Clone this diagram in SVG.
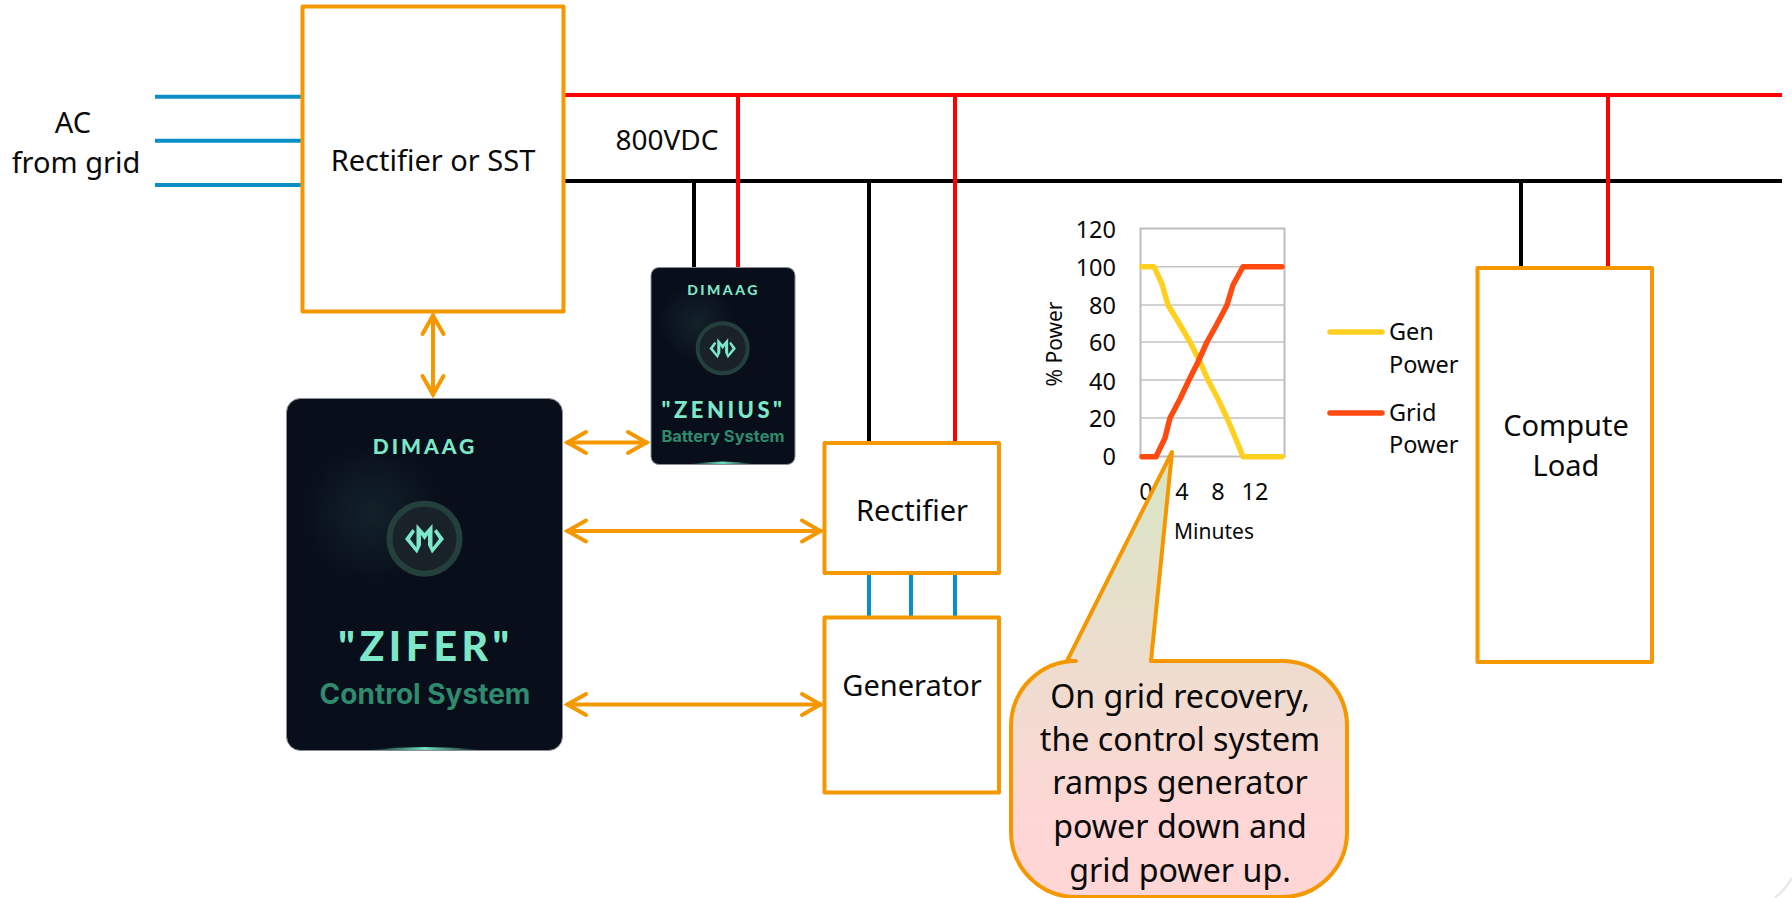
<svg xmlns="http://www.w3.org/2000/svg" width="1792" height="898" viewBox="0 0 1792 898">
<style>
.box{fill:#fff;stroke:#f59800;stroke-width:4;stroke-linejoin:round}
.w{stroke-width:4;fill:none}
.red{stroke:#ff0000}.blk{stroke:#000}.blu{stroke:#0a8fc6}
.arr{stroke:#f59800;stroke-width:4;fill:none;marker-start:url(#h);marker-end:url(#h)}
text{font-family:"Noto Sans","Open Sans",sans-serif;fill:#0a0a0a;text-anchor:middle}
.t{font-size:29px}
.c{font-size:23.500px}
.c2{font-size:21px}
.s{text-anchor:start}
.e{text-anchor:end}
.co{font-size:32.200px}
.dim{font-family:Lato,sans-serif;font-weight:900;fill:#7de8c8}
.sub{font-family:Inter,sans-serif;font-weight:700;fill:#2f8a6e}
.grid{stroke:#c4c4c4;stroke-width:1.6}
</style>
<defs>
<marker id="h" viewBox="-24 -14 28 28" refX="0" refY="0" markerWidth="28" markerHeight="28" markerUnits="userSpaceOnUse" orient="auto-start-reverse"><path d="M-20-10.500-1.500 0-20 10.500" fill="none" stroke="#f59800" stroke-width="4" stroke-linecap="round"/></marker>
<linearGradient id="cg" gradientUnits="userSpaceOnUse" x1="0" y1="450" x2="0" y2="830"><stop offset="0" stop-color="#d6e6c4"/><stop offset="1" stop-color="#ffd6d6"/></linearGradient>
<radialGradient id="glow"><stop offset="0" stop-color="#7de8c8" stop-opacity=".09"/><stop offset="1" stop-color="#7de8c8" stop-opacity="0"/></radialGradient>
<linearGradient id="base"><stop offset="0" stop-color="#6fe0bd" stop-opacity="0"/><stop offset=".5" stop-color="#6fe0bd"/><stop offset="1" stop-color="#6fe0bd" stop-opacity="0"/></linearGradient>
<path id="m" d="M-19.500 0-12-10-9.500-7.500-14.500 0-8 8.500-8-15 0-6 8-15 8 8.500 14.500 0 9.500-7.500 12-10 19.500 0 7.500 14.500 3.500 6 3.500-4 0 1-3.500-4-3.500 6-7.500 14.500Z"/>
</defs>
<g id="connectors">
<path class="w blu" d="M155 96.700H302M155 140.700H302M155 185H302"/>
<path class="w blk" d="M563 181H1782M694 181V268M869 181V443M1521 181V268"/>
<path class="w red" d="M563 95H1782M738 95V268M955 95V443M1608 95V268"/>
<path class="w blu" d="M869 573V617M911 573V617M955 573V617"/>
<path class="arr" d="M433 314V396"/>
<path class="arr" d="M566 442.500H648"/>
<path class="arr" d="M566 531H822"/>
<path class="arr" d="M566 704.500H822"/>
</g>
<g id="rectifier-sst"><rect class="box" x="302.500" y="6.500" width="261" height="305"/><text class="t" x="433" y="171">Rectifier or SST</text></g>
<g id="ac-label"><text class="t" x="73" y="133">AC</text><text class="t" x="76" y="173">from grid</text></g>
<text id="vdc-label" class="t" style="font-size:28px" x="667" y="150">800VDC</text>
<g id="zifer">
<rect x="286.500" y="398.500" width="276" height="352" rx="14" fill="#080e1a" stroke="#8a8f98" stroke-width="1"/>
<circle cx="372" cy="513" r="72" fill="url(#glow)"/>
<path d="M367 750Q425 744 483 750Z" fill="url(#base)"/>
<text class="dim" x="425" y="454" font-size="21" letter-spacing="3">DIMAAG</text>
<circle cx="424.500" cy="538.700" r="35" fill="#1a2229" stroke="#24403d" stroke-width="6"/>
<use href="#m" x="424.500" y="539" fill="#7de8c8"/>
<text class="dim" x="426" y="661" font-size="41" letter-spacing="4.500">"ZIFER"</text>
<text class="sub" x="425" y="704" font-size="28">Control System</text>
</g>
<g id="zenius">
<rect x="651" y="267.500" width="144" height="197" rx="8" fill="#080e1a" stroke="#8a8f98" stroke-width="1"/>
<circle cx="697" cy="323" r="40" fill="url(#glow)"/>
<path d="M690 464Q723 459 755 464Z" fill="url(#base)"/>
<text class="dim" x="723.500" y="295" font-size="14" letter-spacing="2.500">DIMAAG</text>
<circle cx="722.700" cy="348.300" r="25" fill="#1a2229" stroke="#24403d" stroke-width="4"/>
<use href="#m" transform="translate(722.700 348.500) scale(.68)" fill="#7de8c8"/>
<text class="dim" x="723.500" y="418" font-size="22" letter-spacing="3.500">"ZENIUS"</text>
<text class="sub" x="723" y="442" font-size="16.500">Battery System</text>
</g>
<g id="rectifier"><rect class="box" x="824.500" y="443" width="174.500" height="130"/><text class="t" x="912" y="521">Rectifier</text></g>
<g id="generator"><rect class="box" x="824.500" y="617.500" width="174.500" height="175"/><text class="t" x="912" y="696">Generator</text></g>
<g id="compute-load"><rect class="box" x="1477.500" y="268" width="174.500" height="394"/><text class="t" x="1566" y="436">Compute</text><text class="t" x="1566" y="476">Load</text></g>
<g id="chart">
<path class="grid" d="M1140 266.700H1284M1140 305H1284M1140 342H1284M1140 380H1284M1140 418H1284"/>
<rect x="1140.500" y="228.500" width="144" height="228" fill="none" stroke="#bdbdbd" stroke-width="2"/>
<path d="M1142 266.700H1154L1162 284 1168 305 1179 323 1190 342 1200 362 1208 380 1218 399 1227 418 1235 437 1243 456.700H1282" fill="none" stroke="#ffd020" stroke-width="5.500" stroke-linecap="round" stroke-linejoin="round"/>
<path d="M1142 456.700H1156L1165 438 1170 418 1180 399 1189 380 1198 362 1207 342 1217 324 1227 305 1233 285 1243 266.700H1282" fill="none" stroke="#ff4a10" stroke-width="5.500" stroke-linecap="round" stroke-linejoin="round"/>
<text class="c e" x="1116" y="238">120</text>
<text class="c e" x="1116" y="276">100</text>
<text class="c e" x="1116" y="314">80</text>
<text class="c e" x="1116" y="351">60</text>
<text class="c e" x="1116" y="390">40</text>
<text class="c e" x="1116" y="427">20</text>
<text class="c e" x="1116" y="465">0</text>
<text class="c" x="1146" y="500">0</text><text class="c" x="1182" y="500">4</text><text class="c" x="1218" y="500">8</text><text class="c" x="1255" y="500">12</text>
<text class="c2" x="1214" y="539">Minutes</text>
<text class="c2" transform="translate(1062 344) rotate(-90)">% Power</text>
<path d="M1330 332H1382" stroke="#ffd020" stroke-width="5.500" stroke-linecap="round"/>
<path d="M1330 413H1382" stroke="#ff4a10" stroke-width="5.500" stroke-linecap="round"/>
<text class="c s" x="1389" y="340">Gen</text><text class="c s" x="1389" y="373">Power</text>
<text class="c s" x="1389" y="421">Grid</text><text class="c s" x="1389" y="453">Power</text>
</g>
<g id="callout">
<path d="M1172 452 1151 661H1282A65 65 0 0 1 1347 726V832A65 65 0 0 1 1282 897H1076A65 65 0 0 1 1011 832V726A65 65 0 0 1 1076 661H1067Z" fill="url(#cg)" stroke="#f59800" stroke-width="4" stroke-linejoin="round"/>
<text class="co" x="1180" y="708">On grid recovery,</text>
<text class="co" x="1180" y="751">the control system</text>
<text class="co" x="1180" y="794">ramps generator</text>
<text class="co" x="1180" y="838">power down and</text>
<text class="co" x="1180" y="882">grid power up.</text>
</g>
<path id="corner" d="M1775 898Q1785 890 1792 878" fill="none" stroke="#e8e8e8" stroke-width="2.500"/>
</svg>
